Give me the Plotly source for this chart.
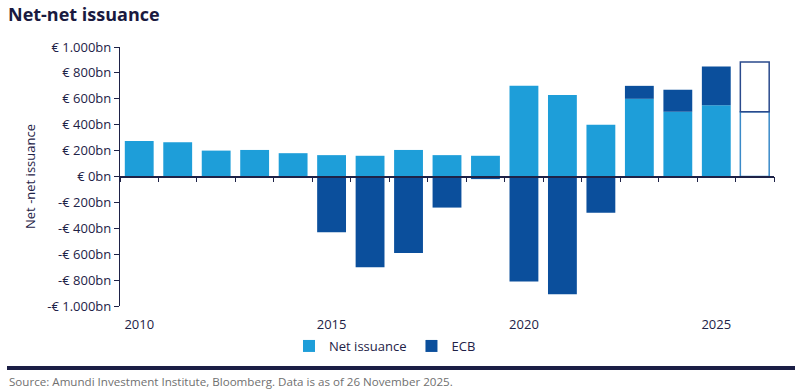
import plotly.graph_objects as go

years = list(range(2010, 2027))
net_issuance = [275, 265, 200, 205, 180, 165, 160, 205, 165, 160, 700, 630, 400, 600, 500, 550, 500]
ecb = [0, 0, 0, 0, 0, -430, -700, -590, -240, -20, -810, -910, -280, 100, 170, 300, 385]
y_ticks = [-1000, -800, -600, -400, -200, 0, 200, 400, 600, 800, 1000]
y_tick_labels = ["-€ 1.000bn", "-€ 800bn", "-€ 600bn", "-€ 400bn", "-€ 200bn", "€ 0bn",
                 "€ 200bn", "€ 400bn", "€ 600bn", "€ 800bn", "€ 1.000bn"]
x_tick_years = [2010, 2015, 2020, 2025]
projection_year = 2026

LIGHT = "#1e9ed9"
DARK = "#0b4f9c"
NAVY = "#1e2247"
FONT = "Open Sans"

is_proj = [y == projection_year for y in years]

fig = go.Figure()
fig.add_trace(go.Bar(
    x=years, y=net_issuance, name="Net issuance", width=0.75,
    marker=dict(color=["white" if p else LIGHT for p in is_proj],
                line=dict(color=["#3a8ac8" if p else LIGHT for p in is_proj],
                          width=[1.5 if p else 0 for p in is_proj])),
))
fig.add_trace(go.Bar(
    x=years, y=ecb, name="ECB", width=0.75,
    marker=dict(color=["white" if p else DARK for p in is_proj],
                line=dict(color=["#2a4a8c" if p else DARK for p in is_proj],
                          width=[1.5 if p else 0 for p in is_proj])),
))
# invisible helper trace so the zero-line axis (with boundary ticks) is rendered
fig.add_trace(go.Scatter(
    x=years, y=[0] * len(years), xaxis="x2", mode="markers",
    marker=dict(opacity=0), showlegend=False, hoverinfo="skip",
))

fig.update_layout(
    width=800, height=392,
    margin=dict(l=120, r=26, t=47, b=86),
    paper_bgcolor="white", plot_bgcolor="white",
    barmode="relative",
    font=dict(family=FONT, size=13, color=NAVY),
    title=dict(text="<b>Net-net issuance</b>", x=8 / 800, xanchor="left", xref="container",
               y=1 - 15 / 392, yanchor="middle", yref="container",
               font=dict(family=FONT, size=18, color="#1a1a40")),
    xaxis=dict(range=[2009.5, 2026.5], tickvals=x_tick_years, ticks="outside", ticklen=6,
               tickcolor="rgba(0,0,0,0)", showline=False, showgrid=False, zeroline=False,
               tickfont=dict(size=13, color=NAVY)),
    xaxis2=dict(overlaying="x", anchor="free", position=0.5, side="bottom",
                range=[2009.5, 2026.5], tickvals=[y + 0.5 for y in [2009] + years],
                ticks="outside", ticklen=5, tickwidth=1.2, tickcolor=NAVY, showticklabels=False,
                showline=True, linecolor=NAVY, linewidth=1.5, showgrid=False, zeroline=False),
    yaxis=dict(range=[-1000, 1000], tickvals=y_ticks, ticktext=y_tick_labels,
               ticks="outside", ticklen=5, tickcolor=NAVY, showline=True, linecolor=NAVY,
               linewidth=1.2, showgrid=False, zeroline=False,
               title=dict(text="Net -net issuance", font=dict(size=13, color=NAVY), standoff=8),
               tickfont=dict(size=13, color=NAVY)),
    legend=dict(orientation="h", x=0.5 - 62 / 654, xanchor="center", y=-(346 - 306) / 259,
                yanchor="middle", font=dict(size=13, color=NAVY), itemwidth=30,
                traceorder="normal"),
    shapes=[dict(type="line", xref="paper", yref="paper",
                 x0=(7 - 120) / 654, x1=(795 - 120) / 654,
                 y0=(306 - 368) / 259, y1=(306 - 368) / 259,
                 line=dict(color="#1b1e45", width=4))],
    annotations=[dict(text="Source: Amundi Investment Institute, Bloomberg. Data is as of 26 November 2025.",
                      xref="paper", yref="paper", x=(7 - 120) / 654, y=(306 - 381) / 259,
                      xanchor="left", yanchor="middle", showarrow=False,
                      font=dict(family=FONT, size=11.6, color="#707070"))],
)

fig.write_html("out.html", config={"displayModeBar": False},
               post_script="document.body.style.margin='0px';")
